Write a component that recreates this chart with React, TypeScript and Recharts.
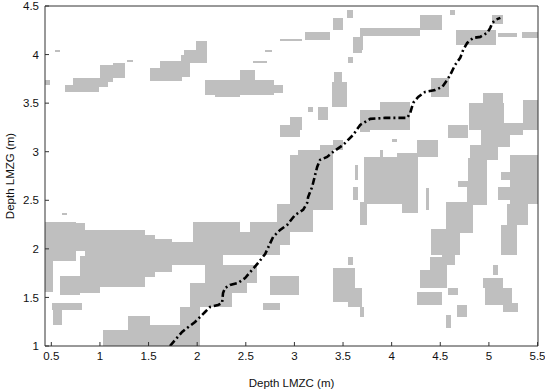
import React from "react";
import { ComposedChart, Line, XAxis, YAxis, ReferenceArea } from "recharts";

const X_TICKS = [0.5, 1, 1.5, 2, 2.5, 3, 3.5, 4, 4.5, 5, 5.5];
const Y_TICKS = [1, 1.5, 2, 2.5, 3, 3.5, 4, 4.5];

// warping path, LMZC depth vs LMZG depth (m)
const PATH_X = [
  1.72, 1.845, 1.896, 1.978, 2.03, 2.081, 2.133, 2.215, 2.256, 2.266, 2.287, 2.338, 2.421, 2.493,
  2.565, 2.627, 2.699, 2.781, 2.853, 2.925, 3.007, 3.089, 3.131, 3.141, 3.182, 3.213, 3.234, 3.264,
  3.336, 3.398, 3.501, 3.604, 3.676, 3.779, 3.933, 4.088, 4.16, 4.191, 4.221, 4.273, 4.345, 4.448,
  4.52, 4.571, 4.602, 4.653, 4.705, 4.736, 4.777, 4.839, 4.911, 4.983, 5.014, 5.035, 5.066, 5.118,
];
const PATH_Y = [
  1.0, 1.144, 1.185, 1.247, 1.299, 1.35, 1.402, 1.422, 1.443, 1.546, 1.597, 1.628, 1.649, 1.7,
  1.783, 1.855, 1.947, 2.123, 2.195, 2.246, 2.349, 2.401, 2.473, 2.534, 2.637, 2.761, 2.843, 2.916,
  2.946, 2.998, 3.07, 3.173, 3.276, 3.338, 3.348, 3.348, 3.348, 3.4, 3.503, 3.564, 3.616, 3.636,
  3.667, 3.739, 3.791, 3.894, 3.966, 4.048, 4.12, 4.172, 4.182, 4.223, 4.275, 4.326, 4.357, 4.378,
];

// gray cells: [x1, x2, y1, y2]
const GRAY_CELLS = [
  // upper part
  [0.54, 0.59, 4.03, 4.05],
  [0.435, 0.49, 3.69, 3.74],
  [0.64, 0.99, 3.61, 3.69],
  [0.72, 1.08, 3.67, 3.76],
  [1.0, 1.13, 3.72, 3.89],
  [1.13, 1.26, 3.76, 3.91],
  [1.28, 1.34, 3.92, 3.94],
  [1.515, 1.845, 3.73, 3.86],
  [1.62, 1.845, 3.84, 3.93],
  [1.86, 2.1, 3.91, 4.05],
  [1.99, 2.1, 4.03, 4.14],
  [1.83, 1.93, 3.77, 4.0],
  [2.08, 2.79, 3.585, 3.74],
  [2.44, 2.59, 3.74, 3.84],
  [2.59, 2.88, 3.605, 3.69],
  [2.18, 2.44, 3.565, 3.585],
  [2.575, 2.72, 3.915, 3.935],
  [2.7, 2.77, 4.03, 4.05],
  [2.85, 3.08, 4.14, 4.16],
  [3.11, 3.37, 4.15, 4.23],
  [3.4, 3.5, 4.25, 4.38],
  [3.545, 3.605, 4.38, 4.46],
  [3.605, 3.695, 4.02, 4.18],
  [3.55, 3.6, 3.91, 3.98],
  [3.41, 3.49, 3.72, 3.82],
  [3.39, 3.545, 3.46, 3.72],
  [3.245, 3.35, 3.33, 3.46],
  [3.14, 3.19, 3.41, 3.46],
  [2.955, 3.08, 3.22, 3.36],
  [2.85, 3.06, 3.15, 3.28],
  [3.675, 4.29, 4.19, 4.27],
  [3.675, 3.705, 4.05, 4.19],
  [4.29, 4.52, 4.25, 4.41],
  [4.6, 4.65, 4.41, 4.46],
  [4.66, 5.07, 4.1, 4.255],
  [5.035, 5.15, 4.31, 4.41],
  [5.09, 5.29, 4.18, 4.22],
  [5.34, 5.505, 4.17, 4.235],
  [4.4, 4.585, 3.565, 3.76],
  [3.675, 4.19, 3.22, 3.43],
  [3.88, 4.19, 3.43, 3.51],
  [4.8, 5.16, 3.22, 3.5],
  [4.94, 5.15, 3.46, 3.6],
  [5.35, 5.505, 3.22, 3.53],
  // middle
  [4.58, 4.785, 3.14, 3.275],
  [4.26, 4.48, 2.95, 3.12],
  [4.0, 4.05, 3.1, 3.13],
  [3.675, 3.78, 3.2, 3.27],
  [3.885, 3.915, 2.95, 3.02],
  [4.055, 4.26, 2.885, 2.99],
  [3.72, 4.27, 2.46, 2.95],
  [4.11, 4.27, 2.37, 2.46],
  [3.625, 3.65, 2.71, 2.865],
  [3.605, 3.65, 2.505, 2.635],
  [4.35, 4.385, 2.395, 2.625],
  [5.12, 5.35, 3.17, 3.3],
  [4.92, 5.22, 3.05, 3.22],
  [4.81, 5.09, 2.915, 3.07],
  [4.785, 4.98, 2.67, 2.94],
  [4.68, 4.81, 2.64, 2.7],
  [4.775, 4.98, 2.455, 2.67],
  [4.56, 4.84, 2.16, 2.48],
  [4.4, 4.7, 1.94, 2.2],
  [5.22, 5.505, 2.46, 2.97],
  [5.12, 5.22, 2.71, 2.79],
  [5.09, 5.22, 2.505, 2.635],
  [5.19, 5.4, 2.245, 2.46],
  [5.12, 5.29, 1.94, 2.245],
  [3.675, 3.745, 2.245, 2.485],
  [2.955, 3.4, 2.4, 2.97],
  [3.04, 3.4, 2.97, 3.02],
  [3.265, 3.4, 3.02, 3.07],
  [3.4, 3.5, 3.02, 3.12],
  // left band
  [0.61, 0.66, 2.35, 2.37],
  [0.435, 0.75, 1.87, 2.28],
  [0.435, 0.52, 1.56, 1.87],
  [0.75, 0.85, 1.98, 2.27],
  [0.85, 1.465, 1.7, 2.195],
  [0.59, 1.0, 1.55, 1.72],
  [0.8, 0.85, 1.72, 1.93],
  [0.94, 1.465, 1.61, 1.7],
  [1.465, 1.57, 1.71, 2.14],
  [1.57, 1.74, 1.76, 2.1],
  [1.74, 1.96, 1.835, 2.07],
  [0.51, 0.82, 1.37, 1.44],
  [0.52, 0.61, 1.22, 1.37],
  [0.59, 0.795, 1.525, 1.555],
  // band along the path
  [1.825, 2.44, 1.94, 2.07],
  [1.96, 2.44, 2.07, 2.28],
  [2.545, 3.19, 2.17, 2.28],
  [2.44, 2.955, 2.04, 2.17],
  [2.82, 3.19, 2.28, 2.46],
  [1.825, 2.27, 1.835, 2.04],
  [2.34, 2.85, 1.94, 2.04],
  [2.08, 2.62, 1.65, 1.835],
  [1.93, 2.36, 1.4, 1.65],
  [2.36, 2.51, 1.55, 1.65],
  [1.825, 2.03, 1.0, 1.4],
  // bottom
  [1.03, 1.845, 1.0, 1.165],
  [1.29, 1.515, 1.165, 1.31],
  [1.515, 1.845, 1.165, 1.215],
  [2.75, 3.05, 1.52, 1.72],
  [2.68, 2.85, 1.37, 1.445],
  [3.4, 3.62, 1.45, 1.8],
  [3.55, 3.7, 1.4, 1.6],
  [3.55, 3.6, 1.83, 1.92],
  [3.675, 3.72, 1.3, 1.4],
  [4.52, 4.65, 1.835, 1.99],
  [4.395, 4.57, 1.6, 1.92],
  [4.29, 4.47, 1.6, 1.78],
  [4.26, 4.52, 1.42, 1.555],
  [4.58, 4.68, 1.525, 1.595],
  [4.67, 4.775, 1.3, 1.42],
  [4.56, 4.61, 1.185, 1.32],
  [5.045, 5.09, 1.73, 1.835],
  [4.94, 5.15, 1.6, 1.7],
  [4.96, 5.24, 1.42, 1.6],
  [5.15, 5.3, 1.35, 1.44],
];

const X_DOMAIN: [number, number] = [0.435, 5.505];
const Y_DOMAIN: [number, number] = [1, 4.5];

const FONT = '"Liberation Sans", Arial, sans-serif';
const AXIS_COLOR = "#333";
const GRAY = "#bfbfbf";

export default function App() {
  const pathData = PATH_X.map((x, i) => ({ x, y: PATH_Y[i] }));
  const tickStyle = { fontSize: 11.5, fill: "#111", fontFamily: FONT };

  return (
    <div style={{ position: "absolute", left: 0, top: 0, width: 545, height: 392, background: "#fff" }}>
      <ComposedChart
        width={545}
        height={392}
        data={pathData}
        margin={{ top: 5, right: 5, bottom: 0, left: 0 }}
        style={{ fontFamily: FONT }}
      >
        <XAxis
          xAxisId="b"
          type="number"
          dataKey="x"
          domain={X_DOMAIN}
          ticks={X_TICKS}
          allowDataOverflow
          height={46}
          tickSize={-4}
          tickMargin={10}
          tick={tickStyle}
          stroke={AXIS_COLOR}
          label={{
            value: "Depth LMZC (m)",
            position: "insideBottom",
            offset: 5,
            style: { fontSize: 11.5, fill: "#111", fontFamily: FONT },
          }}
        />
        <XAxis
          xAxisId="t"
          orientation="top"
          type="number"
          dataKey="x"
          domain={X_DOMAIN}
          ticks={X_TICKS}
          allowDataOverflow
          height={1}
          tickSize={-4}
          tick={false}
          stroke={AXIS_COLOR}
        />
        <YAxis
          yAxisId="l"
          type="number"
          domain={Y_DOMAIN}
          ticks={Y_TICKS}
          allowDataOverflow
          width={45}
          tickSize={-4}
          tickMargin={10}
          tick={tickStyle}
          stroke={AXIS_COLOR}
          label={{
            value: "Depth LMZG (m)",
            angle: -90,
            position: "insideLeft",
            offset: 10,
            style: { textAnchor: "middle", fontSize: 11.5, fill: "#111", fontFamily: FONT },
          }}
        />
        <YAxis
          yAxisId="r"
          orientation="right"
          type="number"
          domain={Y_DOMAIN}
          ticks={Y_TICKS}
          allowDataOverflow
          width={2}
          tickSize={-4}
          tick={false}
          stroke={AXIS_COLOR}
        />
        {GRAY_CELLS.map(([x1, x2, y1, y2], i) => (
          <ReferenceArea
            key={i}
            xAxisId="b"
            yAxisId="l"
            x1={x1}
            x2={x2}
            y1={y1}
            y2={y2}
            fill={GRAY}
            fillOpacity={1}
            stroke="none"
            shapeRendering="crispEdges"
          />
        ))}
        <Line
          xAxisId="b"
          yAxisId="l"
          type="linear"
          dataKey="y"
          stroke="#000"
          strokeWidth={2.6}
          strokeDasharray="7 3 2 3"
          dot={false}
          activeDot={false}
          isAnimationActive={false}
        />
      </ComposedChart>
    </div>
  );
}
